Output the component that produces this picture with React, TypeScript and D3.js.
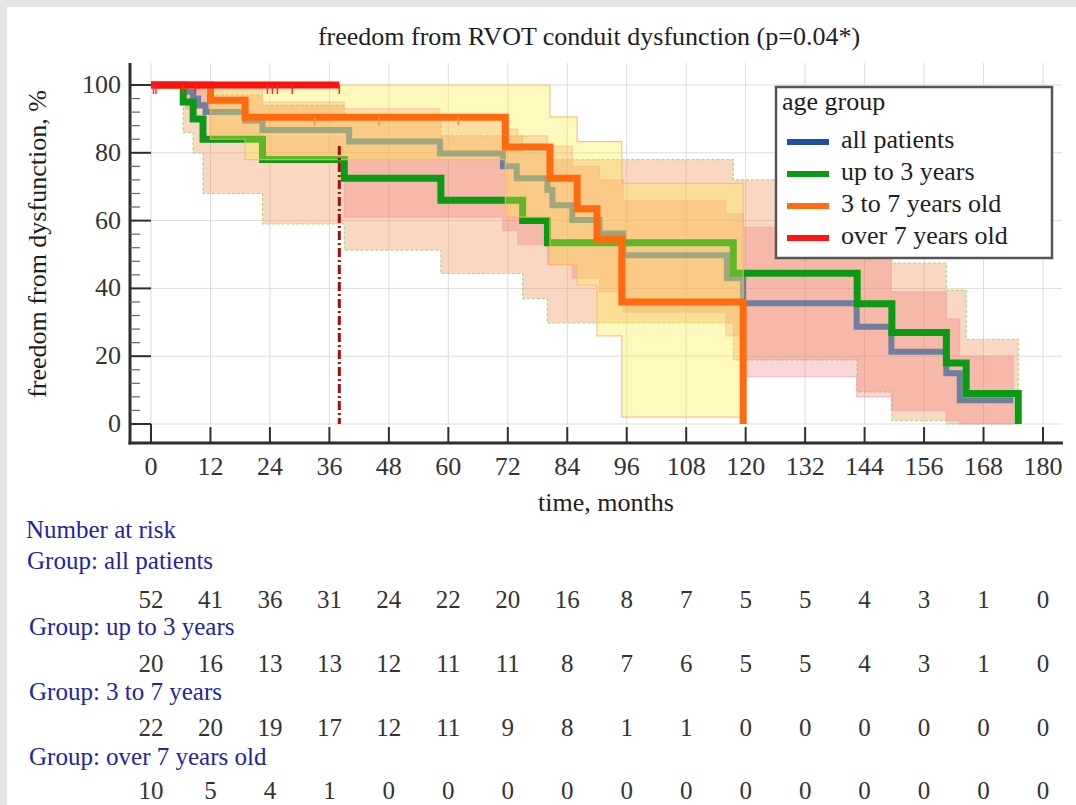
import React, { useEffect, useRef } from 'react';
import * as d3 from 'd3';

const W = 1076;
const H = 805;
const FONT = '"Liberation Serif", "Times New Roman", Times, serif';

// axis ticks
const xTicks = [0, 12, 24, 36, 48, 60, 72, 84, 96, 108, 120, 132, 144, 156, 168, 180];
const yTicks = [0, 20, 40, 60, 80, 100];

// Kaplan-Meier steps (time in months, freedom %)
const allT = [0, 7, 8.5, 9.5, 11, 19, 22.5, 40, 58.3, 71, 73.8, 80, 81, 85, 90.5, 95.3, 116.2, 119.5, 142.4, 149.4, 160.5, 163.2, 174];
const allV = [100, 98, 96, 94, 92, 89.5, 86.7, 83.3, 79.8, 76, 72.5, 69, 64.5, 60.2, 56.2, 49.8, 43, 35.6, 28.7, 21.3, 15, 7, 7];

const upTo3T = [0, 6.5, 8.5, 10.5, 22.5, 39, 58.5, 75, 80, 117.5, 142.5, 149.5, 160.5, 164.5, 175];
const upTo3V = [100, 95, 90, 84, 78, 72.5, 66, 60, 53.5, 44.5, 35.5, 27, 18, 9, 0];

const t3to7T = [0, 12, 19, 71.5, 80.5, 86, 90, 95, 119.5];
const t3to7V = [100, 95.5, 90.5, 81.7, 72.5, 63.5, 54.5, 36, 0];

const over7T = [0, 38];
const over7V = [100, 100];

// censored marks
const over7Cens = [0.5, 1, 6.5, 9, 23.5, 24.5, 25.5, 28.5, 38];
const t3to7Cens = [33, 46, 62];

// confidence bands
const upTo3BandT = [0, 6.5, 8.5, 9, 10.5, 11, 22.5, 39, 58.5, 75, 80, 117.5, 142.5, 149.5, 160.5, 164.5, 175];
const upTo3Hi = [100, 100, 100, 100, 100, 97, 94, 90, 85, 80, 78, 72, 56, 47.5, 39.5, 25, 25];
const upTo3Lo = [100, 86, 80, 80, 68, 68, 59, 51.3, 44.4, 37, 29.8, 18.9, 9.5, 1, 0, 0, 0];

const t3to7BandT = [0, 12, 19, 71.5, 80.5, 86, 90, 95, 119.5];
const t3to7Hi = [100, 100, 100, 100, 90.6, 83.3, 83.3, 71, 71];
const t3to7Lo = [100, 84, 78, 61, 47, 41, 26, 2, 2];

const allBandT = [0, 7, 12, 22.5, 39, 58.3, 71, 74, 80, 85, 90.5, 95.3, 116, 119.5, 142.4, 149.4, 160.5, 163.2, 174];
const allHi = [100, 100, 99, 95, 93, 90, 87, 85, 82, 76, 72, 66, 62, 58, 50, 39, 31, 20, 20];
const allLo = [100, 93, 84, 78, 61, 61, 57, 53, 47, 43, 39, 33, 26, 14, 8, 4, 1, 0, 0];

// legend
const legendNames = ['all patients', 'up to 3 years', '3 to 7 years old', 'over 7 years old'];
const legendColors = ['#1f4f9e', '#0b9a14', '#ff6c12', '#ff1414'];

// number at risk
const riskTimes = [0, 12, 24, 36, 48, 60, 72, 84, 96, 108, 120, 132, 144, 156, 168, 180];
const riskGroups = ['Group: all patients', 'Group: up to 3 years', 'Group: 3 to 7 years', 'Group: over 7 years old'];
const riskAll = [52, 41, 36, 31, 24, 22, 20, 16, 8, 7, 5, 5, 4, 3, 1, 0];
const riskUpTo3 = [20, 16, 13, 13, 12, 11, 11, 8, 7, 6, 5, 5, 4, 3, 1, 0];
const risk3to7 = [22, 20, 19, 17, 12, 11, 9, 8, 1, 1, 0, 0, 0, 0, 0, 0];
const riskOver7 = [10, 5, 4, 1, 0, 0, 0, 0, 0, 0, 0, 0, 0, 0, 0, 0];

const App = () => {
  const svgRef = useRef<SVGSVGElement>(null);

  useEffect(() => {
    const svg = d3.select(svgRef.current);
    svg.selectAll('*').remove();

    const x = d3.scaleLinear().domain([0, 180]).range([151, 1043]);
    const y = d3.scaleLinear().domain([0, 100]).range([424, 85]);

    // frame
    svg.append('rect').attr('width', W).attr('height', H).attr('fill', '#e4e4e4');
    svg.append('rect').attr('x', 7).attr('y', 7).attr('width', W - 7).attr('height', H - 7).attr('fill', '#fff');

    // grid
    const grid = svg.append('g').attr('stroke', '#dcdcdc').attr('stroke-width', 1);
    grid.selectAll('.vg').data(xTicks).enter().append('line')
      .attr('x1', d => x(d)).attr('x2', d => x(d)).attr('y1', 63).attr('y2', y(0));
    grid.selectAll('.hg').data(yTicks).enter().append('line')
      .attr('x1', 130).attr('x2', 1062).attr('y1', d => y(d)).attr('y2', d => y(d));

    const pts = (ts: number[], vs: number[]) => ts.map((t, i) => [t, vs[i]] as [number, number]);

    const line = d3.line<[number, number]>()
      .x(d => x(d[0])).y(d => y(d[1]))
      .curve(d3.curveStepAfter);

    const area = d3.area<[number, number, number]>()
      .x(d => x(d[0])).y0(d => y(d[2])).y1(d => y(d[1]))
      .curve(d3.curveStepAfter);

    const band = (ts: number[], hi: number[], lo: number[], fill: string, edge: string, dash: string | null) => {
      const data = ts.map((t, i) => [t, hi[i], lo[i]] as [number, number, number]);
      const p = svg.append('path').attr('d', area(data))
        .attr('fill', fill).attr('stroke', edge).attr('stroke-width', 1.2);
      if (dash) p.attr('stroke-dasharray', dash);
    };

    const km = (ts: number[], vs: number[], color: string, w = 7) => {
      svg.append('path').attr('d', line(pts(ts, vs)))
        .attr('fill', 'none').attr('stroke', color).attr('stroke-width', w)
        .attr('stroke-linejoin', 'miter').attr('stroke-linecap', 'butt');
    };

    band(upTo3BandT, upTo3Hi, upTo3Lo, 'rgba(241,141,84,0.35)', '#a6dc7c', '3,2');
    band(allBandT, allHi, allLo, 'rgba(235,100,95,0.26)', 'rgba(240,160,170,0.6)', null);
    km(allT, allV, '#6e809d', 6);
    km(upTo3T, upTo3V, '#0b9a14', 7);
    band(t3to7BandT, t3to7Hi, t3to7Lo, 'rgba(255,238,70,0.35)', 'rgba(250,180,110,0.8)', null);

    // median marker
    svg.append('line')
      .attr('x1', x(38)).attr('x2', x(38)).attr('y1', y(82)).attr('y2', y(0))
      .attr('stroke', '#a30d0d').attr('stroke-width', 3).attr('stroke-dasharray', '9,3,2,3');

    km(t3to7T, t3to7V, '#ff6a0e', 7);
    km(over7T, over7V, '#ff1010', 7);

    svg.selectAll('.c7').data(over7Cens).enter().append('line')
      .attr('x1', d => x(d)).attr('x2', d => x(d))
      .attr('y1', y(100)).attr('y2', y(100) + 9)
      .attr('stroke', '#ff2a2a').attr('stroke-width', 1.5);
    svg.selectAll('.c37').data(t3to7Cens).enter().append('line')
      .attr('x1', d => x(d)).attr('x2', d => x(d))
      .attr('y1', y(90.5)).attr('y2', y(90.5) + 8)
      .attr('stroke', '#ff8a3a').attr('stroke-width', 1.5);

    // axes
    const ax = svg.append('g').attr('stroke', '#2e2e2e');
    ax.append('line').attr('x1', 130).attr('x2', 130).attr('y1', 63).attr('y2', 444.5).attr('stroke-width', 3);
    ax.append('line').attr('x1', 128.5).attr('x2', 1063).attr('y1', 443).attr('y2', 443).attr('stroke-width', 3);
    ax.selectAll('.yt').data(yTicks).enter().append('line')
      .attr('x1', 130).attr('x2', 151).attr('y1', d => y(d)).attr('y2', d => y(d)).attr('stroke-width', 2);
    ax.selectAll('.ym').data(d3.range(0, 101, 4).filter(v => v % 20 !== 0)).enter().append('line')
      .attr('x1', 130).attr('x2', 140).attr('y1', d => y(d)).attr('y2', d => y(d))
      .attr('stroke-width', 1.2).attr('stroke', '#666');
    ax.selectAll('.xt').data(xTicks).enter().append('line')
      .attr('x1', d => x(d)).attr('x2', d => x(d))
      .attr('y1', 443).attr('y2', d => (d === 0 ? y(0) : 427)).attr('stroke-width', 2);

    const txt = (s: string, tx: number, ty: number, anchor: string, color = '#2a2a2a', size = 26) =>
      svg.append('text').text(s).attr('x', tx).attr('y', ty)
        .attr('text-anchor', anchor).attr('font-family', FONT).attr('font-size', size).attr('fill', color);

    yTicks.forEach(v => txt(String(v), 121, y(v) + 8, 'end', '#333'));
    xTicks.forEach(t => txt(String(t), x(t), 475, 'middle', '#333'));

    txt('freedom from RVOT conduit dysfunction (p=0.04*)', 589, 45, 'middle', '#1e1e1e');
    txt('time, months', 606, 511, 'middle', '#1e1e1e');
    txt('freedom from dysfunction, %', 0, 0, 'middle', '#1e1e1e')
      .attr('transform', 'translate(46,244) rotate(-90)');

    // legend
    const lg = svg.append('g');
    lg.append('rect').attr('x', 776).attr('y', 87).attr('width', 276).attr('height', 171)
      .attr('fill', '#fff').attr('stroke', '#555').attr('stroke-width', 2.5);
    txt('age group', 782, 110, 'start', '#1e1e1e');
    legendNames.forEach((n, i) => {
      const ly = 142 + i * 32;
      lg.append('line').attr('x1', 787).attr('x2', 829).attr('y1', ly).attr('y2', ly)
        .attr('stroke', legendColors[i]).attr('stroke-width', 6);
      txt(n, 841, ly + 6, 'start', '#1e1e1e');
    });

    // number at risk
    const riskRows = [riskAll, riskUpTo3, risk3to7, riskOver7];
    const groupY = [569, 635, 700, 765];
    const numY = [608, 672, 736, 799];
    txt('Number at risk', 26, 538, 'start', '#2323a8', 25);
    riskGroups.forEach((g, i) => {
      txt(g, 27 + (i > 0 ? 2 : 0), groupY[i], 'start', '#2323a8', 25);
      riskRows[i].forEach((n, j) => txt(String(n), x(riskTimes[j]), numY[i], 'middle', '#333', 25));
    });
  }, []);

  return (
    <div>
      <svg ref={svgRef} width={W} height={H} style={{ position: 'absolute', left: 0, top: 0 }}></svg>
    </div>
  );
};

export default App;
